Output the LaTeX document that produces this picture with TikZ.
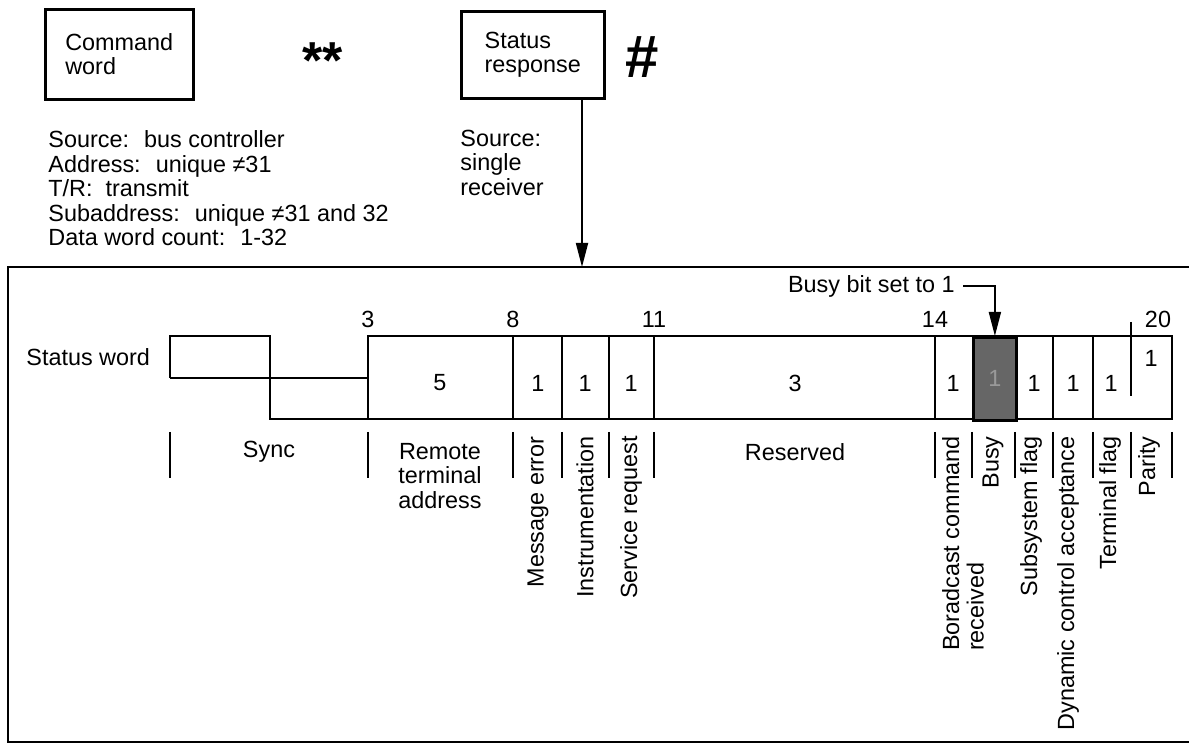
\documentclass[tikz,border=0pt]{standalone}
\usepackage{fontspec}
\setmainfont{Liberation Sans}
\usepackage{tikz}
\usetikzlibrary{positioning,arrows.meta}

\newcommand{\lblfont}{\fontsize{11.7}{12.2}\selectfont}

\begin{document}
\begin{tikzpicture}[x=0.5pt, y=-0.5pt,
        wordbox/.style={draw, line width=1.3pt, align=left, font=\lblfont, inner sep=0pt},
        info/.style={align=left, font=\lblfont, inner sep=0pt},
        lbl/.style={font=\lblfont, inner sep=0pt},
        vlbl/.style={font=\lblfont, inner sep=0pt, rotate=90, anchor=east, align=left},
        wire/.style={line width=1.4pt},
        tick/.style={line width=1.3pt},
        busycell/.style={draw, line width=1.4pt, fill=black!60, text=black!40, minimum width=21.5pt, minimum height=41.5pt, inner sep=0pt, font=\lblfont},
        link/.style={-{Triangle[length=12pt,width=6pt]}, line width=0.9pt}
    ]
    \useasboundingbox (0,0) rectangle (1189,747);

    % header
    \node[wordbox, minimum width=74pt, minimum height=45pt, anchor=north west] (cmd) at (44,8) {Command\\word};
    \node[font=\bfseries\fontsize{26}{26}\selectfont, inner sep=0pt] (stars) at (323,61) {**};
    \node[wordbox, minimum width=71.5pt, minimum height=43.5pt, anchor=north west] (status) at (460,10) {Status\\response};
    \node[font=\bfseries\fontsize{30}{30}\selectfont, inner sep=0pt] (hash) at (642,57) {\#};

    \node[info, below=15pt of cmd.south west, anchor=north west, xshift=2pt] (cmdinfo) {
        Source:~ bus controller\\
        Address:~ unique ≠31\\
        T/R:~ transmit\\
        Subaddress:~ unique ≠31 and 32\\
        Data word count:~ 1-32
    };
    \node[info, below=15pt of status.south west, anchor=north west] (srcinfo) {Source:\\single\\receiver};

    % frame
    \coordinate (wordtop) at (582,267);
    \draw[wire] (1189,267) -- (8,267) -- (8,742) -- (1189,742);
    \draw[link] (status.south -| wordtop) -- (wordtop);

    % status word
    \node[lbl, anchor=west] (swlabel) at (26,357) {Status word};
    \draw[wire] (170,378) -- (170,336) -- (270,336) -- (270,419) -- (368,419);
    \draw[wire] (170,378) -- (368,378);
    \draw[wire] (368,336) rectangle (1172,419);
    \draw[wire] (513,336) -- (513,419) (562,336) -- (562,419) (609,336) -- (609,419)
        (654,336) -- (654,419) (935,336) -- (935,419) (1053,336) -- (1053,419)
        (1093,336) -- (1093,419);
    \node[busycell, anchor=north west] (busy) at (972,336) {1};
    \draw[wire] (1131,322) -- (1131,396);

    % bit positions
    \node[lbl] (pos3) at (368,319) {3};
    \node[lbl] (pos8) at (513,319) {8};
    \node[lbl] (pos11) at (654,319) {11};
    \node[lbl] (pos14) at (935,319) {14};
    \node[lbl] (pos20) at (1158,319) {20};

    % field widths
    \node[lbl] (wrta) at (440,383) {5};
    \node[lbl] (wmsg) at (538,383) {1};
    \node[lbl] (wins) at (585,383) {1};
    \node[lbl] (wsrq) at (631,383) {1};
    \node[lbl] (wres) at (795,383) {3};
    \node[lbl] (wbcr) at (953,383) {1};
    \node[lbl] (wsub) at (1034,383) {1};
    \node[lbl] (wdca) at (1073,383) {1};
    \node[lbl] (wtf) at (1111,383) {1};
    \node[lbl] (wpar) at (1151,358) {1};

    \node[lbl, anchor=east] (busynote) at (955,286) {Busy bit set to 1};
    \draw[link] ([xshift=4pt]busynote.east) -| (busy.north);

    % field labels
    \draw[tick] (170,432) -- (170,478) (368,432) -- (368,478) (513,432) -- (513,478)
        (562,432) -- (562,478) (609,432) -- (609,478) (654,432) -- (654,478)
        (935,432) -- (935,478) (972,432) -- (972,478) (1015,432) -- (1015,478)
        (1053,432) -- (1053,478) (1093,432) -- (1093,478) (1131,432) -- (1131,478)
        (1172,432) -- (1172,478);
    \node[lbl] (sync) at (269,452) {Sync};
    \node[lbl, align=center, anchor=north] (rta) at (440,443) {Remote\\terminal\\address};
    \node[lbl] (resv) at (795,452) {Reserved};
    \node[vlbl] (msgerr) at (538,436) {Message error};
    \node[vlbl] (instr) at (585,436) {Instrumentation};
    \node[vlbl] (srvreq) at (631,436) {Service request};
    \node[vlbl] (bcast) at (963,436) {Boradcast command\\received};
    \node[vlbl] (busylbl) at (993,436) {Busy};
    \node[vlbl] (subsys) at (1031,436) {Subsystem flag};
    \node[vlbl] (dynctl) at (1068,436) {Dynamic control acceptance};
    \node[vlbl] (termf) at (1110,436) {Terminal flag};
    \node[vlbl] (parity) at (1149,436) {Parity};
\end{tikzpicture}
\end{document}
